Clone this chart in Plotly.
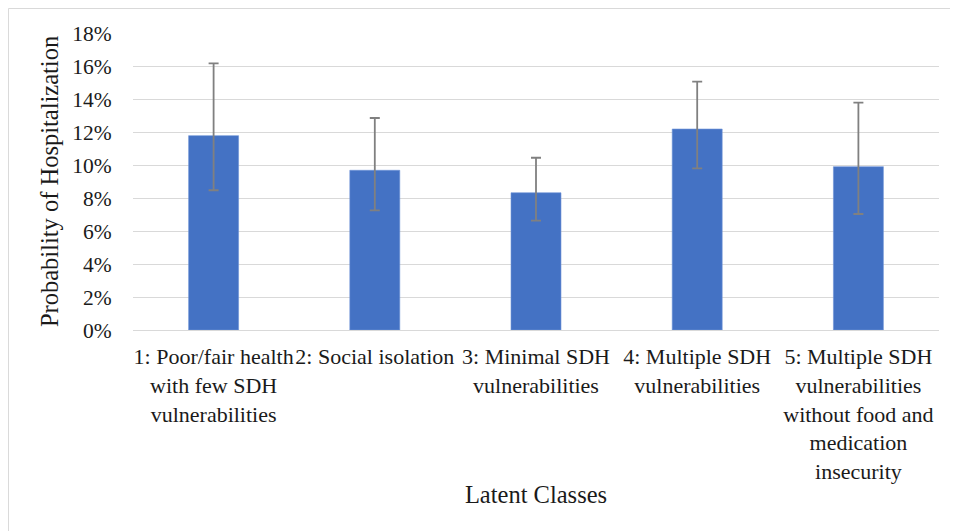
import plotly.graph_objects as go

categories = [
    "1: Poor/fair health<br>with few SDH<br>vulnerabilities",
    "2: Social isolation",
    "3: Minimal SDH<br>vulnerabilities",
    "4: Multiple SDH<br>vulnerabilities",
    "5: Multiple SDH<br>vulnerabilities<br>without food and<br>medication<br>insecurity",
]
probability = [0.1178, 0.0968, 0.0832, 0.1218, 0.0990]
ci_lower = [0.0847, 0.0725, 0.0663, 0.0980, 0.0703]
ci_upper = [0.1616, 0.1285, 0.1044, 0.1505, 0.1378]
y_ticks = [0, 0.02, 0.04, 0.06, 0.08, 0.10, 0.12, 0.14, 0.16, 0.18]

err_plus = [u - p for u, p in zip(ci_upper, probability)]
err_minus = [p - l for p, l in zip(probability, ci_lower)]

FONT = "Liberation Serif"
TXT = "#1a1a1a"

fig = go.Figure()
fig.add_trace(go.Bar(
    x=categories,
    y=probability,
    marker=dict(color="#4472C4", line=dict(color="#6f93d6", width=0.6)),
    error_y=dict(type="data", symmetric=False, array=err_plus, arrayminus=err_minus,
                 color="#808080", thickness=1.8, width=5),
    width=0.31,
))

fig.update_layout(
    width=950, height=523,
    margin=dict(l=125, r=19, t=25, b=201),
    paper_bgcolor="white", plot_bgcolor="white",
    font=dict(family=FONT, size=22, color=TXT),
    showlegend=False,
    xaxis=dict(
        showgrid=False, showline=False, zeroline=False,
        ticks="outside", ticklen=7, tickcolor="rgba(0,0,0,0)",
        tickfont=dict(size=22, family=FONT, color=TXT),
        tickangle=0,
        title=dict(text="Latent Classes", font=dict(size=24.5, family=FONT, color=TXT), standoff=3),
        automargin=False,
    ),
    yaxis=dict(
        range=[0, 0.18], tickvals=y_ticks, tickformat=".0%",
        showgrid=True, gridcolor="#d9d9d9", gridwidth=1.3,
        zeroline=True, zerolinecolor="#d9d9d9", zerolinewidth=1.3,
        showline=False,
        ticks="outside", ticklen=16, tickcolor="rgba(0,0,0,0)",
        tickfont=dict(size=21.5, family=FONT, color=TXT),
        title=dict(text="Probability of Hospitalization", font=dict(size=24.5, family=FONT, color=TXT), standoff=6),
        automargin=False,
    ),
    shapes=[
        dict(type="rect", xref="paper", yref="paper",
             x0=-0.1545, x1=1.05, y0=-0.75, y1=1.0825,
             line=dict(color="#d9d9d9", width=1), fillcolor="rgba(0,0,0,0)", layer="below"),
    ],
)

fig.write_html("out.html")
